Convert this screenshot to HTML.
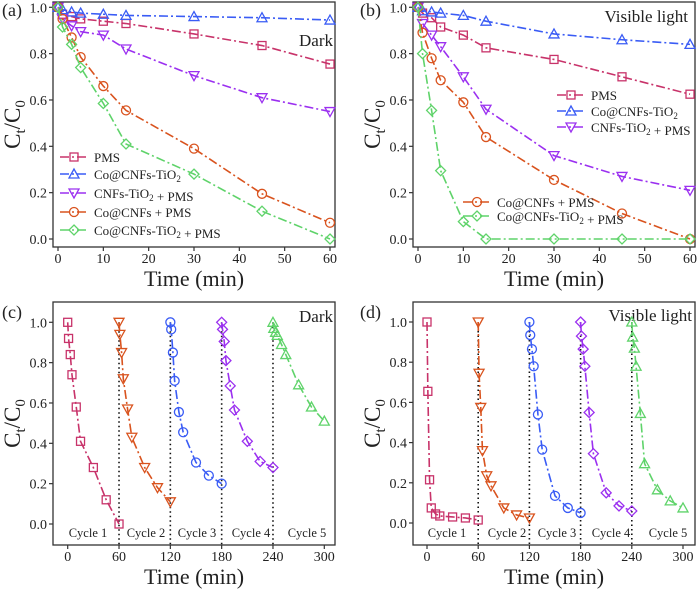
<!DOCTYPE html>
<html><head><meta charset="utf-8"><style>
body{margin:0;background:#fff;}
svg{display:block;font-family:"Liberation Serif","Times New Roman",serif;}
svg text{font-family:"Liberation Serif","Times New Roman",serif;}
</style></head><body>
<svg id="fig" width="700" height="589" viewBox="0 0 700 589" font-family="Liberation Serif, serif" xmlns="http://www.w3.org/2000/svg"></svg>
<script>
// ---- data ----
const timesAB = [0,1,3,5,10,15,30,45,60];
const seriesNames = ["PMS","Co@CNFs-TiO2","CNFs-TiO2 + PMS","Co@CNFs + PMS","Co@CNFs-TiO2 + PMS"];
const aPMS   = [1.0,0.97,0.96,0.95,0.94,0.93,0.885,0.835,0.755];
const aCoT   = [1.0,0.99,0.98,0.975,0.97,0.965,0.96,0.955,0.945];
const aCNFT  = [1.0,0.95,0.92,0.895,0.88,0.82,0.705,0.61,0.55];
const aCo    = [1.0,0.95,0.87,0.785,0.66,0.555,0.39,0.195,0.07];
const aCoTP  = [1.0,0.915,0.84,0.74,0.585,0.41,0.28,0.12,0.0];
const bPMS   = [1.0,0.975,0.955,0.915,0.88,0.825,0.775,0.70,0.625];
const bCoT   = [1.0,0.985,0.98,0.975,0.965,0.94,0.885,0.86,0.84];
const bCNFT  = [1.0,0.93,0.88,0.83,0.70,0.56,0.36,0.27,0.21];
const bCo    = [1.0,0.89,0.78,0.685,0.59,0.44,0.255,0.11,0.0];
const bCoTP  = [1.0,0.80,0.555,0.295,0.075,0.0,0.0,0.0,0.0];
const cycleTimes = [0,1,3,5,10,15,30,45,60];
const cycleOffsets = [0,60,120,180,240];
const cDark1 = [1.0,0.92,0.84,0.74,0.58,0.41,0.28,0.12,0.0];
const cDark2 = [1.0,0.94,0.85,0.72,0.57,0.43,0.28,0.18,0.11];
const cDark3 = [1.0,0.965,0.85,0.71,0.555,0.455,0.305,0.24,0.20];
const cDark4 = [1.0,0.965,0.905,0.81,0.685,0.565,0.41,0.31,0.28];
const cDark5 = [1.0,0.97,0.95,0.935,0.89,0.84,0.69,0.58,0.51];
const dVis1 = [1.0,0.655,0.215,0.075,0.045,0.035,0.03,0.025,0.015];
const dVis2 = [1.0,0.745,0.575,0.36,0.235,0.185,0.075,0.04,0.025];
const dVis3 = [1.0,0.935,0.865,0.78,0.54,0.365,0.135,0.075,0.05];
const dVis4 = [1.0,0.93,0.865,0.78,0.55,0.345,0.15,0.085,0.06];
const dVis5 = [1.0,0.925,0.87,0.78,0.545,0.295,0.165,0.11,0.075];
const yTicks = [0,0.2,0.4,0.6,0.8,1.0];
const yTickLabels = ["0.0","0.2","0.4","0.6","0.8","1.0"];
const xTicksAB = [0,10,20,30,40,50,60];
const xTicksCD = [0,60,120,180,240,300];
const cycleLabels = ["Cycle 1","Cycle 2","Cycle 3","Cycle 4","Cycle 5"];

const colorsAB = ["#c8336a","#3a5cf5","#9b30f0","#d9531e","#5fd36a"];
const colorsCD = ["#c8336a","#d9531e","#3a5cf5","#9b30f0","#5fd36a"];
const markersAB = ["square","tri-up","tri-down","circle","diamond"];
const markersCD = ["square","tri-down","circle","diamond","tri-up"];
const FONT = '"Liberation Serif", serif';
const svg = document.getElementById('fig');
const NS = "http://www.w3.org/2000/svg";
function mk(tag, attrs, parent){const e=document.createElementNS(NS,tag);for(const k in attrs)e.setAttribute(k,attrs[k]);if(tag==='text')e.setAttribute('font-family',FONT);(parent||svg).appendChild(e);return e;}

function marker(g, type, x, y, c){
  const s=4; let e;
  if(type==="square") e=mk('rect',{x:x-s,y:y-s,width:2*s,height:2*s},g);
  else if(type==="circle") e=mk('circle',{cx:x,cy:y,r:s+0.5},g);
  else if(type==="tri-up") e=mk('polygon',{points:`${x},${y-s-1} ${x-s-1},${y+s} ${x+s+1},${y+s}`},g);
  else if(type==="tri-down") e=mk('polygon',{points:`${x},${y+s+1} ${x-s-1},${y-s} ${x+s+1},${y-s}`},g);
  else e=mk('polygon',{points:`${x},${y-s-1} ${x+s+1},${y} ${x},${y+s+1} ${x-s-1},${y}`},g);
  e.setAttribute('fill','none');e.setAttribute('stroke',c);e.setAttribute('stroke-width','1.3');
  
  
  return e;
}

function panel(p){
  const colors=p.colors;
  const g=mk('g',{});
  
  
  const X=v=>p.x0+(v-p.xmin)*(p.x1-p.x0)/(p.xmax-p.xmin);
  const Y=v=>p.y0+(v-0)*(p.y1-p.y0)/1;
  const fr=mk('rect',{x:p.L,y:p.T,width:p.R-p.L,height:p.B-p.T,fill:'none',stroke:'#333','stroke-width':1.3},g);
  
  
  yTicks.forEach((t,i)=>{
    const y=Y(t);
    mk('line',{x1:p.L-4,x2:p.L,y1:y,y2:y,stroke:'#333','stroke-width':1.2},g);
    const tx=mk('text',{x:p.L-6,y:y+5,'text-anchor':'end','font-size':14,fill:'#222'},g);
    tx.textContent=yTickLabels[i];
    
    
  });
  p.xticks.forEach(t=>{
    const x=X(t);
    mk('line',{x1:x,x2:x,y1:p.B,y2:p.B+4,stroke:'#333','stroke-width':1.2},g);
    const tx=mk('text',{x:x,y:p.B+16,'text-anchor':'middle','font-size':14,fill:'#222'},g);
    tx.textContent=String(t);
    
    
  });
  const xt=mk('text',{x:(p.L+p.R)/2,y:p.B+39,'text-anchor':'middle','font-size':22,fill:'#222'},g);
  xt.textContent='Time (min)';
  
  
  const yt=mk('text',{x:0,y:0,'text-anchor':'middle','font-size':23,fill:'#222',transform:`translate(${p.L-33},${(p.T+p.B)/2}) rotate(-90)`},g);
  yt.innerHTML='C<tspan font-size="15" dy="5">t</tspan><tspan dy="-5">/C</tspan><tspan font-size="15" dy="5">0</tspan>';
  
  
  const pl=mk('text',{x:p.labX,y:p.labY,'font-size':18,fill:'#222'},g);
  pl.textContent=p.label;
  
  
  const cond=mk('text',{x:p.condX,y:p.condY,'text-anchor':'end','font-size':17,fill:'#222'},g);
  cond.textContent=p.cond;
  
  
  if(p.vlines){
    p.vlines.forEach(v=>{
      const l=mk('line',{x1:X(v),x2:X(v),y1:Y(1.0),y2:p.B,stroke:'#111','stroke-width':1.6,'stroke-dasharray':'1.5,3'},g);
      
      
    });
    cycleLabels.forEach((c,i)=>{
      const t=mk('text',{x:p.cycX[i],y:p.B-8,'text-anchor':'middle','font-size':12.5,fill:'#222'},g);
      t.textContent=c;
      
      
    });
  }
  p.series.forEach((s,i)=>{
    const pts=s.y.map((v,j)=>[X(s.x[j]),Y(v)]);
    const ln=mk('polyline',{points:pts.map(q=>q.join(',')).join(' '),fill:'none',stroke:colors[i],'stroke-width':1.6,'stroke-dasharray':'9,3,2,3'},g);
    
    
    pts.forEach(q=>marker(g,p.markers[i],q[0],q[1],colors[i]));
  });
  if(p.legend){
    p.legend.forEach(L=>{
      const i=L.i;
      const lg=mk('g',{},g);
      
      
      mk('line',{x1:L.x,x2:L.x+28,y1:L.y,y2:L.y,stroke:colors[i],'stroke-width':1.6,'stroke-dasharray':'9,3,2,3'},lg);
      marker(lg,p.markers[i],L.x+14,L.y,colors[i]);
      const t=mk('text',{x:L.x+34,y:L.y+5,'font-size':13,fill:'#222'},lg);
      const n=seriesNames[i];
      t.innerHTML=n.replace('TiO2','TiO<tspan font-size="9" dy="3">2</tspan><tspan dy="-3"></tspan>');
    });
  }
}
const abSeries=(arrs)=>arrs.map(a=>({x:timesAB,y:a}));
const cdSeries=(arrs)=>arrs.map((a,k)=>({x:cycleTimes.map(t=>t+cycleOffsets[k]),y:a}));

panel({name:'panel-a',L:53,R:335,T:2,B:247,x0:58,x1:330,xmin:0,xmax:60,y0:239,y1:7.3,xticks:xTicksAB,
  label:'(a)',labX:2,labY:16,cond:'Dark',condX:333,condY:46,markers:markersAB,colors:colorsAB,
  series:abSeries([aPMS,aCoT,aCNFT,aCo,aCoTP]),
  legend:[{i:0,x:60,y:157},{i:1,x:60,y:174},{i:2,x:60,y:193},{i:3,x:60,y:212},{i:4,x:60,y:230}]});
panel({name:'panel-b',L:413,R:695,T:2,B:247,x0:418,x1:690,xmin:0,xmax:60,y0:239,y1:7.3,xticks:xTicksAB,
  label:'(b)',labX:360,labY:16,cond:'Visible light',condX:688,condY:22,markers:markersAB,colors:colorsAB,
  series:abSeries([bPMS,bCoT,bCNFT,bCo,bCoTP]),
  legend:[{i:0,x:557,y:95},{i:1,x:557,y:111},{i:2,x:557,y:127},{i:3,x:463,y:202},{i:4,x:463,y:216}]});
panel({name:'panel-c',L:53,R:335,T:302,B:545,x0:67.7,x1:324.3,xmin:0,xmax:300,y0:524,y1:322.3,xticks:xTicksCD,
  label:'(c)',labX:2,labY:318,cond:'Dark',condX:333,condY:322,markers:markersCD,colors:colorsCD,
  series:cdSeries([cDark1,cDark2,cDark3,cDark4,cDark5]),vlines:[60,120,180,240],cycX:[88,146,197,251,307]});
panel({name:'panel-d',L:413,R:695,T:302,B:545,x0:427,x1:683,xmin:0,xmax:300,y0:523,y1:322,xticks:xTicksCD,
  label:'(d)',labX:360,labY:318,cond:'Visible light',condX:692,condY:321,markers:markersCD,colors:colorsCD,
  series:cdSeries([dVis1,dVis2,dVis3,dVis4,dVis5]),vlines:[60,120,180,240],cycX:[447,507,557,611,668]});
</script>
</body></html>
